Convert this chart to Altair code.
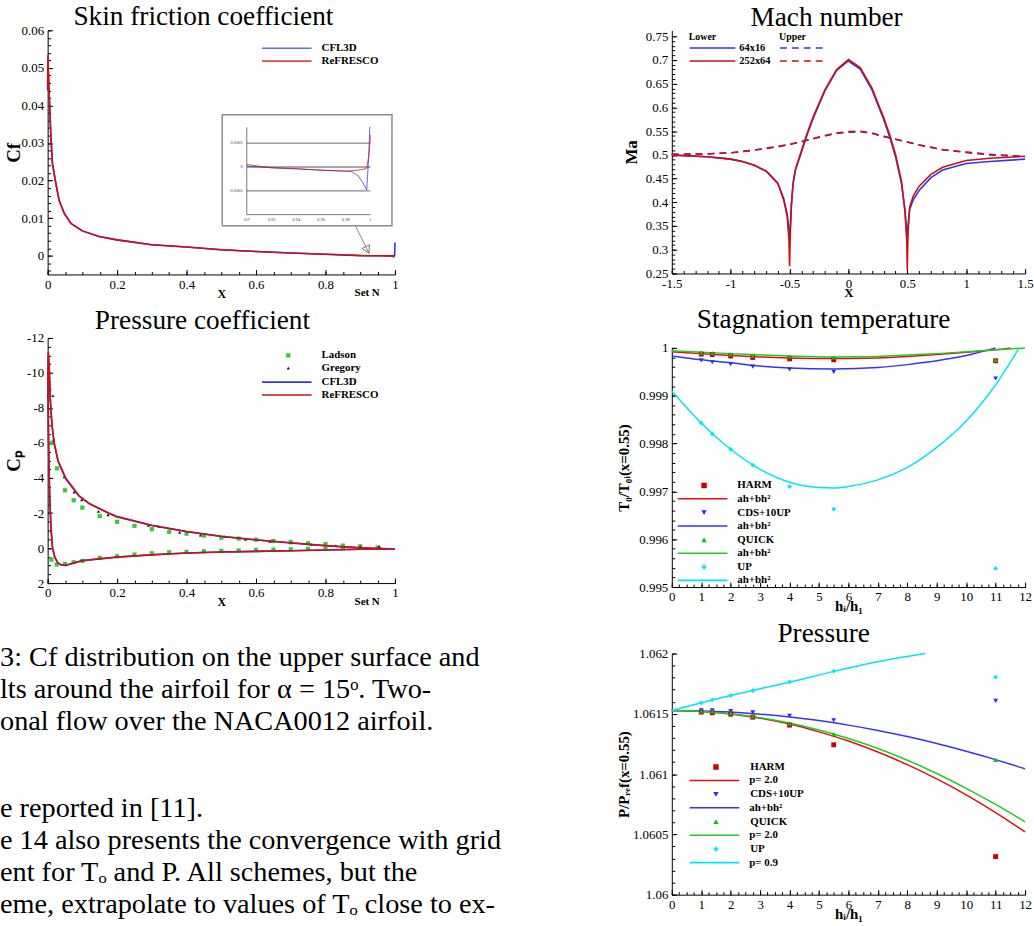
import altair as alt
import pandas as pd

SERIF = "Liberation Serif"
BLACK = "#000000"
BLUE = "#3434f0"
RED = "#cc1111"

# ---------------- Skin friction coefficient ----------------
CF_X_CFL3D = [0.0, 0.001, 0.003, 0.005, 0.0095, 0.014, 0.024, 0.033, 0.048, 0.067,
              0.1, 0.148, 0.2, 0.3, 0.4, 0.5, 0.6, 0.7, 0.8, 0.9,
              0.92, 0.94, 0.96, 0.98, 0.985, 0.99, 0.994, 0.997, 0.9985, 0.9995, 1.0]
CF_CFL3D = [0.044, 0.052, 0.046, 0.0415, 0.031, 0.0243, 0.019, 0.0147, 0.0112, 0.0086,
            0.0066, 0.0051, 0.0042, 0.0029, 0.0023, 0.0016, 0.0011, 0.0007, 0.0004, 0.00001,
            -0.00001, -0.000025, -0.00004, -0.00005, -0.00006, -0.00011, -0.0002, -0.00029, 0.0001, 0.0012,
            0.0035]
CF_X_REFRESCO = [0.0, 0.001, 0.002, 0.005, 0.0095, 0.014, 0.024, 0.033, 0.048, 0.067,
                 0.1, 0.148, 0.2, 0.3, 0.4, 0.5, 0.6, 0.7, 0.8, 0.9,
                 0.92, 0.94, 0.96, 0.98, 0.99, 0.997, 0.999, 1.0]
CF_REFRESCO = [0.045, 0.0534, 0.050, 0.042, 0.0315, 0.0245, 0.0192, 0.0148, 0.0113, 0.0086,
               0.0066, 0.0051, 0.0042, 0.0029, 0.0023, 0.0016, 0.0011, 0.0007, 0.0004, 0.00003,
               -0.00001, -0.00002, -0.00004, -0.000054, -0.00004, -0.00002, 0.00018, 0.0004]
INSET_GRID_Y = [0.0003, 0.0, -0.0003]
INSET_Y_LABELS = ["0.0003", "0", "-0.0003"]
INSET_X_TICKS = [0.9, 0.92, 0.94, 0.96, 0.98, 1.0]
INSET_X_LABELS = ["0.9", "0.92", "0.94", "0.96", "0.98", "1"]
ARROW_X = [0.886, 0.926]
ARROW_Y = [0.0080, 0.0005]
ARROW_HEAD_X = [0.9206]
ARROW_HEAD_Y = [0.00156]

# ---------------- Pressure coefficient ----------------
CP_X_REFRESCO = [1.0, 0.9, 0.8, 0.7, 0.6, 0.5, 0.4, 0.3, 0.2, 0.15, 0.1, 0.07, 0.052, 0.04, 0.029,
                 0.02, 0.014, 0.01, 0.006, 0.003, 0.0015, 0.001,
                 0.002, 0.005, 0.007, 0.01, 0.013, 0.019, 0.03, 0.052, 0.09, 0.12, 0.176, 0.2,
                 0.3, 0.4, 0.5, 0.6, 0.7, 0.8, 0.9, 1.0]
CP_REFRESCO = [0.05, 0.07, 0.11, 0.15, 0.19, 0.23, 0.28, 0.39, 0.52, 0.62, 0.73, 0.88, 1.0, 0.97, 0.85,
               0.5, 0.0, -1.0, -2.8, -5.5, -8.0, -10.0,
               -11.2, -10.2, -8.8, -7.8, -7.0, -6.0, -5.0, -4.0, -3.0, -2.55, -2.0, -1.8,
               -1.3, -0.95, -0.67, -0.47, -0.3, -0.14, -0.02, 0.05]
CP_X_CFL3D = CP_X_REFRESCO
CP_CFL3D = [0.05, 0.07, 0.11, 0.15, 0.19, 0.23, 0.28, 0.38, 0.51, 0.61, 0.72, 0.87, 0.99, 0.96, 0.84,
            0.48, -0.05, -1.1, -3.0, -5.8, -8.3, -9.4,
            -11.0, -10.0, -8.7, -7.7, -6.9, -5.95, -4.95, -3.95, -2.97, -2.52, -1.98, -1.78,
            -1.29, -0.94, -0.66, -0.46, -0.29, -0.13, -0.01, 0.05]
LADSON_X = [0.012, 0.027, 0.05, 0.075, 0.1, 0.15, 0.2, 0.25, 0.3, 0.35, 0.4, 0.45, 0.5, 0.55, 0.6,
            0.65, 0.7, 0.75, 0.8, 0.85, 0.9, 0.95,
            0.011, 0.026, 0.05, 0.075, 0.1, 0.15, 0.2, 0.25, 0.3, 0.35, 0.4, 0.45, 0.5, 0.55, 0.6,
            0.65, 0.7, 0.75, 0.8, 0.85, 0.9]
LADSON_CP = [-6.0, -4.55, -3.3, -2.73, -2.31, -1.82, -1.5, -1.27, -1.08, -0.93, -0.82, -0.71, -0.59, -0.54, -0.48,
             -0.4, -0.35, -0.27, -0.23, -0.14, -0.1, -0.04,
             0.66, 0.94, 0.9, 0.81, 0.73, 0.56, 0.47, 0.37, 0.3, 0.24, 0.22, 0.18, 0.16, 0.14, 0.11,
             0.09, 0.07, 0.05, 0.03, 0.01, -0.01]
GREGORY_X = [0.001, 0.002, 0.007, 0.015, 0.017, 0.048, 0.076, 0.098, 0.146, 0.174, 0.29, 0.32, 0.38,
             0.44, 0.51, 0.57, 0.64, 0.7, 0.76, 0.83, 0.9, 0.955]
GREGORY_CP = [-8.7, -10.0, -9.1, -8.7, -6.2, -4.07, -3.2, -2.75, -2.1, -1.9, -1.3, -1.24, -0.9,
              -0.74, -0.65, -0.5, -0.38, -0.3, -0.2, -0.14, -0.08, -0.08]

# ---------------- Mach number ----------------
MACH_X_LOWER = [-1.5, -1.2, -1.0, -0.9, -0.8, -0.7, -0.6, -0.55, -0.52, -0.505, -0.5, -0.495, -0.485,
                -0.47, -0.45, -0.4, -0.35, -0.3, -0.2, -0.1, 0.0, 0.1, 0.2, 0.3, 0.35, 0.4, 0.45, 0.48,
                0.495, 0.5, 0.505, 0.52, 0.55, 0.6, 0.7, 0.8, 1.0, 1.2, 1.5]
MA_LOWER_64 = [0.4995, 0.496, 0.491, 0.486, 0.478, 0.466, 0.441, 0.408, 0.375, 0.34, 0.327, 0.345, 0.395,
               0.44, 0.468, 0.505, 0.543, 0.577, 0.635, 0.678, 0.698, 0.681, 0.637, 0.574, 0.538, 0.496,
               0.44, 0.385, 0.335, 0.313, 0.35, 0.385, 0.405, 0.425, 0.452, 0.468, 0.482, 0.486, 0.491]
MA_LOWER_252 = [0.4997, 0.496, 0.491, 0.486, 0.478, 0.466, 0.440, 0.405, 0.37, 0.32, 0.265, 0.32, 0.39,
                0.44, 0.47, 0.508, 0.546, 0.58, 0.637, 0.68, 0.701, 0.684, 0.641, 0.578, 0.543, 0.501,
                0.445, 0.38, 0.32, 0.258, 0.33, 0.39, 0.413, 0.434, 0.459, 0.474, 0.488, 0.493, 0.497]
MACH_X_UPPER = [-1.5, -1.2, -1.0, -0.8, -0.6, -0.5, -0.4, -0.3, -0.2, -0.1, 0.0, 0.1, 0.2, 0.3, 0.4,
                0.5, 0.6, 0.8, 1.0, 1.2, 1.5]
MA_UPPER_64 = [0.501, 0.502, 0.5045, 0.51, 0.517, 0.522, 0.528, 0.534, 0.54, 0.545, 0.548, 0.549, 0.545,
               0.539, 0.533, 0.527, 0.521, 0.511, 0.505, 0.5, 0.496]
MA_UPPER_252 = [0.501, 0.502, 0.5045, 0.51, 0.518, 0.522, 0.528, 0.5345, 0.541, 0.546, 0.549, 0.55, 0.546,
                0.539, 0.533, 0.527, 0.521, 0.511, 0.506, 0.501, 0.497]
GRIDS = ["64x16", "252x64"]

# ---------------- Stagnation temperature / pressure ----------------
SCHEMES = ["HARM", "CDS+10UP", "QUICK", "UP"]
H_PTS = [1.0, 1.375, 2.0, 2.75, 4.0, 5.5, 11.0]
T_HARM = [0.99987, 0.99986, 0.99983, 0.9998, 0.99977, 0.99975, 0.99973]
T_CDS = [0.99974, 0.9997, 0.99966, 0.99961, 0.99955, 0.9995, 0.99936]
T_QUICK = [0.9999, 0.99989, 0.99987, 0.99984, 0.99982, 0.9998, 0.99975]
T_UP = [0.99843, 0.9982, 0.99788, 0.99755, 0.9971, 0.99663, 0.99539]
TL_H_HARM = [0, 1, 2, 3, 4, 5, 6, 7, 8, 9, 10, 11, 11.5]
TL_HARM = [0.99992, 0.99988, 0.99984, 0.99981, 0.99979, 0.99978, 0.99978, 0.99979, 0.99982, 0.99986,
           0.99991, 0.99996, 1.0]
TL_H_CDS = [0, 1, 2, 3, 4, 5.5, 7, 8, 9, 10, 11]
TL_CDS = [0.99983, 0.99975, 0.99969, 0.99962, 0.99958, 0.99956, 0.99959, 0.99965, 0.99973, 0.99984, 1.0]
TL_H_QUICK = [0, 2, 4, 5.5, 7, 8, 9, 10, 11, 12]
TL_QUICK = [0.99994, 0.99988, 0.99983, 0.99981, 0.99982, 0.99985, 0.99988, 0.99992, 0.99996, 1.0]
TL_H_UP = [0, 1, 2, 3, 4, 5, 5.5, 6, 7, 8, 9, 10, 11, 11.8]
TL_UP = [0.9991, 0.99843, 0.99788, 0.99746, 0.99719, 0.99708, 0.99707, 0.9971, 0.99724, 0.9975, 0.99792,
         0.99847, 0.99923, 1.0]

P_HARM = [1.061514, 1.061508, 1.061497, 1.061472, 1.061406, 1.061243, 1.060316]
P_CDS = [1.061528, 1.061528, 1.061522, 1.061511, 1.061483, 1.061445, 1.061608]
P_QUICK = [1.061522, 1.061519, 1.061505, 1.06148, 1.06142, 1.061331, 1.061118]
P_UP = [1.061591, 1.061616, 1.061652, 1.061693, 1.061765, 1.061854, 1.061804]
PL_H = [0, 1, 2, 3, 4, 5, 6, 7, 8, 9, 10, 11, 12]
PL_HARM = [1.061527, 1.06152, 1.061499, 1.061464, 1.061415, 1.06135, 1.061274, 1.061183, 1.061078, 1.06096,
           1.060828, 1.060681, 1.06052]
PL_CDS = [1.061527, 1.061524, 1.061514, 1.061497, 1.061474, 1.061444, 1.061406, 1.061362, 1.061311, 1.061254,
          1.06119, 1.06112, 1.061044]
PL_QUICK = [1.061527, 1.06152, 1.0615, 1.061468, 1.061423, 1.061365, 1.061295, 1.061212, 1.061115, 1.061005,
            1.060882, 1.060748, 1.060604]
PL_H_UP = [0, 1, 2, 3, 4, 5.5, 7, 8.6]
PL_UP = [1.061527, 1.061592, 1.061652, 1.061708, 1.061762, 1.061852, 1.061932, 1.062]
P_FIT_LABELS = ["p= 2.0", "ah+bh\u00b2", "p= 2.0", "p= 0.9"]

PT_COLORS = ["#cc0000", "#2a2aff", "#11bb11", "#00e8ff"]
LN_COLORS = ["#dd1111", "#3333ff", "#22cc22", "#00e5f5"]
PT_SHAPES = ["square", "triangle-down", "triangle-up", "diamond"]

# ---------------- Text ----------------
CAPTION_LINES = ["3: Cf distribution on the upper surface and",
                 "lts around the airfoil for \u03b1 = 15\u1d52.  Two-",
                 "onal flow over the NACA0012 airfoil."]
BODY_LINES = ["e reported in [11].",
              "e 14 also presents the convergence with grid",
              "ent for T\u2092 and P.  All schemes, but the",
              "eme, extrapolate to values of T\u2092 close to ex-"]


# ---------------- helpers ----------------
def tick_values(start, stop, step):
    n = int(round((stop - start) / step))
    return [round(start + i * step, 10) for i in range(n + 1)]


def grid_common():
    return dict(ticks=False, grid=True, gridColor=BLACK, gridOpacity=1, gridWidth=1)


def major_axis(vals, orient, dash, title, tsize=16, **kw):
    return alt.Axis(
        values=vals, orient=orient, format="~g",
        labelExpr="replace(datum.label, '\\u2212', '-')",
        gridDash=dash, domainColor=BLACK, domainWidth=1, domainOpacity=1,
        labelFont=SERIF, labelFontSize=13, labelColor=BLACK, labelOverlap=False,
        labelFlush=False, labelPadding=4,
        title=title, titleFont=SERIF, titleFontWeight="bold", titleFontSize=tsize,
        titleColor=BLACK, **grid_common(), **kw)


def minor_axis(vals, orient, dash):
    return alt.Axis(values=vals, orient=orient, domain=False, labels=False, gridDash=dash,
                    title=None, **grid_common())


def xdash(length, height, reversed_y=False):
    # vertical grid segment drawn as a short tick at the x axis
    return [length, 4000] if reversed_y else [0, height - length, length, 4000]


def minor_layer(xs, ys, xvals, yvals, height, reversed_y=False):
    return alt.Chart(ONE).mark_point(opacity=0).encode(
        x=alt.XDatum(xvals[0], scale=xs, axis=minor_axis(xvals, "bottom", xdash(3, height, reversed_y))),
        y=alt.YDatum(yvals[0], scale=ys, axis=minor_axis(yvals, "left", [3, 4000])))


def leg_lines(x, y, clip=13, rowpad=0, **kw):
    return alt.Legend(orient="none", legendX=x, legendY=y, title=None, symbolType="stroke",
                      symbolSize=2500, symbolStrokeWidth=1.6, labelFont=SERIF,
                      labelFontWeight="bold", labelFontSize=11, labelColor=BLACK, labelOffset=9,
                      clipHeight=clip, rowPadding=rowpad, padding=0, **kw)


def leg_points(x, y, clip=13, rowpad=0, loff=28, **kw):
    return alt.Legend(orient="none", legendX=x, legendY=y, title=None, symbolSize=30,
                      symbolOffset=22, labelFont=SERIF, labelFontWeight="bold", labelFontSize=11,
                      labelColor=BLACK, labelOffset=loff, clipHeight=clip, rowPadding=rowpad,
                      padding=0, symbolStrokeWidth=0, **kw)


def title(text, dx, offset):
    return alt.TitleParams(text, font=SERIF, fontSize=27.5, fontWeight="normal", color=BLACK,
                           anchor="middle", dx=dx, offset=offset)


ONE = pd.DataFrame({"k": [0]})
INDEP_LAYER = dict(color="independent", shape="independent", size="independent")
NOAX = None

# ================= Chart 1: skin friction =================
W1, H1 = 350, 246
cf_df = pd.concat([
    pd.DataFrame({"x": CF_X_CFL3D, "cf": CF_CFL3D, "series": "CFL3D"}),
    pd.DataFrame({"x": CF_X_REFRESCO, "cf": CF_REFRESCO, "series": "ReFRESCO"}),
])
xs1 = alt.Scale(domain=[0, 1], nice=False, zero=False)
ys1 = alt.Scale(domain=[-0.005, 0.06], nice=False, zero=False)
col1 = alt.Color("series:N", scale=alt.Scale(domain=["CFL3D", "ReFRESCO"], range=[BLUE, RED]),
                 legend=leg_lines(215, 11.5))
main_lines = alt.Chart(cf_df).mark_line(strokeWidth=1.6).encode(
    x=alt.X("x:Q", scale=xs1, axis=major_axis(tick_values(0, 1, 0.2), "bottom", xdash(5, H1), "X",
                                              tsize=12, titleBaseline="middle", titleY=19)),
    y=alt.Y("cf:Q", scale=ys1, axis=major_axis(tick_values(0, 0.06, 0.01), "left", [5, 4000], "Cf",
                                               tsize=19, titleX=-34, titleBaseline="middle")),
    color=col1)
set_n1 = alt.Chart(pd.DataFrame({"x": [0.92], "t": ["Set N"]})).mark_text(
    font=SERIF, fontWeight="bold", fontSize=11, baseline="middle", color=BLACK).encode(
    x=alt.X("x:Q", scale=xs1, axis=NOAX), y=alt.value(H1 + 19), text="t:N")
arrow_line = alt.Chart(pd.DataFrame({"x": ARROW_X, "y": ARROW_Y})).mark_line(
    color="#666666", strokeWidth=0.8).encode(x=alt.X("x:Q", scale=xs1, axis=NOAX),
                                             y=alt.Y("y:Q", scale=ys1, axis=NOAX))
arrow_head = alt.Chart(pd.DataFrame({"x": ARROW_HEAD_X, "y": ARROW_HEAD_Y})).mark_point(
    shape="triangle-down", size=70, angle=333, filled=False, color="#666666", strokeWidth=0.8,
    opacity=1).encode(x=alt.X("x:Q", scale=xs1, axis=NOAX), y=alt.Y("y:Q", scale=ys1, axis=NOAX))
inset_box = alt.Chart(ONE).mark_rect(fill="white", stroke="#8c8c8c", strokeWidth=1.5).encode(
    x=alt.value(176), x2=alt.value(347), y=alt.value(85), y2=alt.value(197))
minor1 = minor_layer(xs1, ys1, tick_values(0, 1, 0.05), tick_values(-0.004, 0.06, 0.002), H1)
main1 = alt.layer(main_lines, set_n1, arrow_line, arrow_head, inset_box, minor1).resolve_axis(
    x="independent", y="independent")

ix = alt.Scale(domain=[0.9, 1.0], range=[200.7, 325.3], nice=False, zero=False)
iy = alt.Scale(domain=[-0.0006, 0.0005], range=[185.7, 97.7], nice=False, zero=False, clamp=True)
inset_grid = alt.Chart(pd.DataFrame({"v": INSET_GRID_Y})).mark_rule(
    color="#8a8a8a", strokeWidth=1.3).encode(
    y=alt.Y("v:Q", scale=iy, axis=None),
    x=alt.XDatum(0.9, scale=ix, axis=None), x2=alt.X2Datum(1.0))
inset_vaxis = alt.Chart(ONE).mark_rule(color="#555555", strokeWidth=0.8).encode(
    x=alt.XDatum(0.9, scale=ix, axis=None),
    y=alt.YDatum(-0.0006, scale=iy, axis=None), y2=alt.Y2Datum(0.0005))
inset_haxis = alt.Chart(ONE).mark_rule(color="#555555", strokeWidth=0.8).encode(
    y=alt.YDatum(-0.0006, scale=iy, axis=None),
    x=alt.XDatum(0.9, scale=ix, axis=None), x2=alt.X2Datum(1.0))
inset_lines = alt.Chart(cf_df).transform_filter("datum.x >= 0.9").mark_line(
    strokeWidth=1, opacity=0.75).encode(
    x=alt.X("x:Q", scale=ix, axis=None), y=alt.Y("cf:Q", scale=iy, axis=None), color=col1)
inset_ylab = alt.Chart(pd.DataFrame({"v": INSET_GRID_Y, "t": INSET_Y_LABELS})).mark_text(
    fontSize=4.5, align="right", dx=-4, color="#444444", font=SERIF).encode(
    y=alt.Y("v:Q", scale=iy, axis=None), x=alt.XDatum(0.9, scale=ix, axis=None), text="t:N")
inset_xlab = alt.Chart(pd.DataFrame({"v": INSET_X_TICKS, "t": INSET_X_LABELS})).mark_text(
    fontSize=4.5, dy=5, color="#444444", font=SERIF).encode(
    x=alt.X("v:Q", scale=ix, axis=None), y=alt.YDatum(-0.0006, scale=iy, axis=None), text="t:N")
inset1 = alt.layer(inset_grid, inset_vaxis, inset_haxis, inset_lines, inset_ylab, inset_xlab)

chart1 = alt.layer(main1, inset1).resolve_scale(x="independent", y="independent").properties(
    width=W1, height=H1, title=title("Skin friction coefficient", -18, -6.5))

# ================= Chart 2: pressure coefficient =================
W2, H2 = 350, 247
cp_lines_df = pd.concat([
    pd.DataFrame({"x": CP_X_CFL3D, "cp": CP_CFL3D, "series": "CFL3D", "i": range(len(CP_X_CFL3D))}),
    pd.DataFrame({"x": CP_X_REFRESCO, "cp": CP_REFRESCO, "series": "ReFRESCO",
                  "i": range(len(CP_X_REFRESCO))}),
])
cp_pts_df = pd.concat([
    pd.DataFrame({"x": LADSON_X, "cp": LADSON_CP, "src": "Ladson"}),
    pd.DataFrame({"x": GREGORY_X, "cp": GREGORY_CP, "src": "Gregory"}),
])
xs2 = alt.Scale(domain=[0, 1], nice=False, zero=False)
ys2 = alt.Scale(domain=[-12, 2], reverse=True, nice=False, zero=False)
cp_lines = alt.Chart(cp_lines_df).mark_line(strokeWidth=1.6).encode(
    x=alt.X("x:Q", scale=xs2, axis=major_axis(tick_values(0, 1, 0.2), "bottom", xdash(5, H2, True), "X",
                                              tsize=12, titleBaseline="middle", titleY=19)),
    y=alt.Y("cp:Q", scale=ys2, axis=major_axis(tick_values(-12, 2, 2), "left", [5, 4000], "C\u209a",
                                               tsize=19, titleX=-34, titleBaseline="middle")),
    order="i:Q",
    color=alt.Color("series:N", scale=alt.Scale(domain=["CFL3D", "ReFRESCO"], range=[BLUE, RED]),
                    legend=leg_lines(215, 38)))
pleg2 = leg_points(215, 11)
cp_pts = alt.Chart(cp_pts_df).mark_point(filled=True, opacity=1, strokeWidth=0).encode(
    x=alt.X("x:Q", scale=xs2, axis=NOAX), y=alt.Y("cp:Q", scale=ys2, axis=NOAX),
    color=alt.Color("src:N", scale=alt.Scale(domain=["Ladson", "Gregory"], range=["#33cc33", "#111111"]),
                    legend=pleg2),
    shape=alt.Shape("src:N", scale=alt.Scale(domain=["Ladson", "Gregory"], range=["square", "triangle-up"]),
                    legend=pleg2),
    size=alt.Size("src:N", scale=alt.Scale(domain=["Ladson", "Gregory"], range=[18, 10]), legend=None))
set_n2 = alt.Chart(pd.DataFrame({"x": [0.92], "t": ["Set N"]})).mark_text(
    font=SERIF, fontWeight="bold", fontSize=11, baseline="middle", color=BLACK).encode(
    x=alt.X("x:Q", scale=xs2, axis=NOAX), y=alt.value(H2 + 19), text="t:N")
minor2 = minor_layer(xs2, ys2, tick_values(0, 1, 0.05), tick_values(-12, 2, 0.5), H2, True)
chart2 = alt.layer(cp_pts, cp_lines, set_n2, minor2).resolve_scale(**INDEP_LAYER).resolve_axis(
    x="independent", y="independent").properties(
    width=W2, height=H2, title=title("Pressure coefficient", -19, -2.5))

# ================= Text block =================
cap = alt.Chart(ONE).mark_text(text=CAPTION_LINES, font=SERIF, fontSize=28.5, lineHeight=32,
                               align="left", baseline="middle", color=BLACK).encode(
    x=alt.value(-48), y=alt.value(42))
body = alt.Chart(ONE).mark_text(text=BODY_LINES, font=SERIF, fontSize=28.5, lineHeight=32,
                                align="left", baseline="middle", color=BLACK).encode(
    x=alt.value(-48), y=alt.value(194))
text_chart = alt.layer(cap, body).properties(width=452, height=300)

# ================= Chart 3: Mach number =================
W3, H3 = 356, 245
lower_df = pd.concat([
    pd.DataFrame({"x": MACH_X_LOWER, "ma": MA_LOWER_64, "grid": GRIDS[0]}),
    pd.DataFrame({"x": MACH_X_LOWER, "ma": MA_LOWER_252, "grid": GRIDS[1]}),
])
upper_df = pd.concat([
    pd.DataFrame({"x": MACH_X_UPPER, "ma": MA_UPPER_64, "grid": GRIDS[0]}),
    pd.DataFrame({"x": MACH_X_UPPER, "ma": MA_UPPER_252, "grid": GRIDS[1]}),
])
xs3 = alt.Scale(domain=[-1.5, 1.5], nice=False, zero=False)
ys3 = alt.Scale(domain=[0.25, 0.7626], nice=False, zero=False)
leg_common = dict(titleFont=SERIF, titleFontWeight="bold", titleFontSize=10, titleColor=BLACK,
                  titlePadding=0)
lower = alt.Chart(lower_df).mark_line(strokeWidth=1.6).encode(
    x=alt.X("x:Q", scale=xs3, axis=major_axis(tick_values(-1.5, 1.5, 0.5), "bottom", xdash(5, H3), "X",
                                              tsize=13, titleBaseline="middle", titleY=19)),
    y=alt.Y("ma:Q", scale=ys3, axis=major_axis(tick_values(0.25, 0.75, 0.05), "left", [5, 4000], "Ma",
                                               tsize=17, titleX=-41, titleBaseline="middle")),
    color=alt.Color("grid:N", scale=alt.Scale(domain=GRIDS, range=[BLUE, RED]),
                    legend=alt.Legend(orient="none", legendX=17, legendY=1.5, title="Lower",
                                      symbolType="stroke", symbolSize=2116, symbolStrokeWidth=1.6,
                                      labelFont=SERIF, labelFontWeight="bold", labelFontSize=10.5,
                                      labelColor=BLACK, labelOffset=3, clipHeight=12.7,
                                      rowPadding=0, padding=0, **leg_common)))
upper = alt.Chart(upper_df).mark_line(strokeWidth=1.6, strokeDash=[7, 5]).encode(
    x=alt.X("x:Q", scale=xs3, axis=NOAX), y=alt.Y("ma:Q", scale=ys3, axis=NOAX),
    color=alt.Color("grid:N", scale=alt.Scale(domain=GRIDS, range=[BLUE, RED]),
                    legend=alt.Legend(orient="none", legendX=108, legendY=1.5, title="Upper",
                                      symbolType="stroke", symbolSize=2025, symbolStrokeWidth=1.6,
                                      symbolDash=[7, 5], labelExpr="''", labelFontSize=1,
                                      clipHeight=12.7, rowPadding=0, padding=0, **leg_common)))
minor3 = minor_layer(xs3, ys3, tick_values(-1.5, 1.5, 0.1), tick_values(0.25, 0.75, 0.01), H3)
chart3 = alt.layer(lower, upper, minor3).resolve_scale(color="independent").resolve_axis(
    x="independent", y="independent").properties(
    width=W3, height=H3, title=title("Mach number", -22, -1))


# ================= Chart 4 & 5 helpers =================
def pts_df(vals):
    return pd.concat([pd.DataFrame({"h": H_PTS, "v": v, "s": s}) for v, s in zip(vals, SCHEMES)])


def lines_df(hs, vals):
    return pd.concat([pd.DataFrame({"h": h, "v": v, "s": s}) for h, v, s in zip(hs, vals, SCHEMES)])


def fit_label_expr(labels):
    e = "''"
    for s, l in reversed(list(zip(SCHEMES, labels))):
        e = f"datum.label == '{s}' ? '{l}' : ({e})"
    return e


xs4 = alt.Scale(domain=[0, 12], nice=False, zero=False)
W4, H4 = 356, 241
ys4 = alt.Scale(domain=[0.995, 1.0], nice=False, zero=False)
pl4 = leg_points(5, 132, clip=13.4, rowpad=13.4)
lines4 = alt.Chart(lines_df([TL_H_HARM, TL_H_CDS, TL_H_QUICK, TL_H_UP],
                            [TL_HARM, TL_CDS, TL_QUICK, TL_UP])).mark_line(
    strokeWidth=1.5, interpolate="monotone").encode(
    x=alt.X("h:Q", scale=xs4, axis=major_axis(tick_values(0, 12, 1), "bottom", xdash(5, H4),
                                              "h\u1d62/h\u2081", tsize=15, titleBaseline="middle",
                                              titleY=19)),
    y=alt.Y("v:Q", scale=ys4, axis=major_axis(tick_values(0.995, 1.0, 0.001), "left", [5, 4000],
                                              "T\u2080/T\u2080\u1d62(x=0.55)", tsize=15, titleX=-49,
                                              titleBaseline="middle")),
    color=alt.Color("s:N", scale=alt.Scale(domain=SCHEMES, range=LN_COLORS),
                    legend=leg_lines(5, 145.4, clip=13.4, rowpad=13.4,
                                     labelExpr="'ah+bh\u00b2'")))
pts4 = alt.Chart(pts_df([T_HARM, T_CDS, T_QUICK, T_UP])).mark_point(
    filled=True, opacity=1, size=24, strokeWidth=0).encode(
    x=alt.X("h:Q", scale=xs4, axis=NOAX), y=alt.Y("v:Q", scale=ys4, axis=NOAX),
    color=alt.Color("s:N", scale=alt.Scale(domain=SCHEMES, range=PT_COLORS), legend=pl4),
    shape=alt.Shape("s:N", scale=alt.Scale(domain=SCHEMES, range=PT_SHAPES), legend=pl4))
minor4 = minor_layer(xs4, ys4, tick_values(0, 12, 0.25), tick_values(0.995, 1.0, 0.0002), H4)
chart4 = alt.layer(lines4, pts4, minor4).resolve_scale(**INDEP_LAYER).resolve_axis(
    x="independent", y="independent").properties(
    width=W4, height=H4, title=title("Stagnation temperature", -25, 9))

W5, H5 = 356, 243
ys5 = alt.Scale(domain=[1.06, 1.062], nice=False, zero=False)
pl5 = leg_points(17, 107.5, clip=13.6, rowpad=13.6, loff=29)
lines5 = alt.Chart(lines_df([PL_H, PL_H, PL_H, PL_H_UP],
                            [PL_HARM, PL_CDS, PL_QUICK, PL_UP])).mark_line(
    strokeWidth=1.5, interpolate="monotone").encode(
    x=alt.X("h:Q", scale=xs4, axis=major_axis(tick_values(0, 12, 1), "bottom", xdash(5, H5),
                                              "h\u1d62/h\u2081", tsize=15, titleBaseline="middle",
                                              titleY=19)),
    y=alt.Y("v:Q", scale=ys5, axis=major_axis(tick_values(1.06, 1.062, 0.0005), "left", [5, 4000],
                                              "P/P\u1d63\u2091f(x=0.55)", tsize=15, titleX=-49,
                                              titleBaseline="middle")),
    color=alt.Color("s:N", scale=alt.Scale(domain=SCHEMES, range=LN_COLORS),
                    legend=leg_lines(17, 121.1, clip=13.6, rowpad=13.6,
                                     labelExpr=fit_label_expr(P_FIT_LABELS))))
pts5 = alt.Chart(pts_df([P_HARM, P_CDS, P_QUICK, P_UP])).mark_point(
    filled=True, opacity=1, size=24, strokeWidth=0).encode(
    x=alt.X("h:Q", scale=xs4, axis=NOAX), y=alt.Y("v:Q", scale=ys5, axis=NOAX),
    color=alt.Color("s:N", scale=alt.Scale(domain=SCHEMES, range=PT_COLORS), legend=pl5),
    shape=alt.Shape("s:N", scale=alt.Scale(domain=SCHEMES, range=PT_SHAPES), legend=pl5))
minor5 = minor_layer(xs4, ys5, tick_values(0, 12, 0.25), tick_values(1.06, 1.062, 0.0001), H5)
chart5 = alt.layer(lines5, pts5, minor5).resolve_scale(**INDEP_LAYER).resolve_axis(
    x="independent", y="independent").properties(
    width=W5, height=H5, title=title("Pressure", -25, 0.5))

indep = dict(color="independent", shape="independent", size="independent")
left = alt.vconcat(chart1, chart2, text_chart, spacing=8).resolve_scale(**indep)
right = alt.vconcat(chart3, chart4, chart5, spacing=6).resolve_scale(**indep)
chart = alt.hconcat(left, right, spacing=115).resolve_scale(**indep).properties(
    padding={"left": 0, "top": 0, "right": 0, "bottom": 0},
    background="white").configure_view(stroke=None)

chart.save("out.html", embed_options={"renderer": "svg", "actions": False})
